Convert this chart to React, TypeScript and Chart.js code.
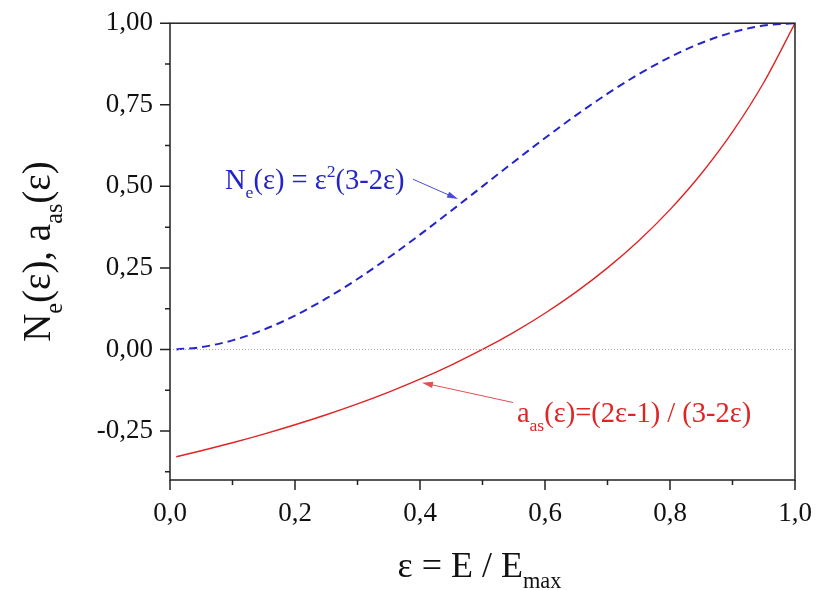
import React, { useEffect, useRef } from "react";
import { Chart, registerables } from "chart.js";

Chart.register(...registerables);

const epsilon = [0.01, 0.05, 0.1, 0.15, 0.2, 0.25, 0.3, 0.35, 0.4, 0.45, 0.5, 0.55, 0.6, 0.65, 0.7, 0.75, 0.8, 0.85, 0.9, 0.95, 1.0];
const neValues = [0.0003, 0.0073, 0.028, 0.0608, 0.104, 0.1563, 0.216, 0.2818, 0.352, 0.4253, 0.5, 0.5748, 0.648, 0.7183, 0.784, 0.8438, 0.896, 0.9393, 0.972, 0.9928, 1.0];
const aasValues = [-0.3289, -0.3103, -0.2857, -0.2593, -0.2308, -0.2, -0.1667, -0.1304, -0.0909, -0.0476, 0, 0.0526, 0.1111, 0.1765, 0.25, 0.3333, 0.4286, 0.5385, 0.6667, 0.8182, 1.0];
const zeroLine = [0, 0];
const zeroLineX = [0, 1];

const xTickValues = [0, 0.2, 0.4, 0.6, 0.8, 1.0];
const xMinorTickValues = [0.1, 0.3, 0.5, 0.7, 0.9];
const yTickValues = [-0.25, 0, 0.25, 0.5, 0.75, 1.0];
const yMinorTickValues = [-0.375, -0.125, 0.125, 0.375, 0.625, 0.875];

const FAMILY = "'Liberation Serif', 'Times New Roman', serif";

type Part = { t: string; s?: "sub" | "sup" };

function partFont(size: number, p: Part) {
  const fs = p.s ? size * 0.62 : size;
  return `${fs}px ${FAMILY}`;
}

function measureRich(ctx: CanvasRenderingContext2D, parts: Part[], size: number) {
  let w = 0;
  for (const p of parts) {
    ctx.font = partFont(size, p);
    w += ctx.measureText(p.t).width;
  }
  return w;
}

function drawRich(ctx: CanvasRenderingContext2D, parts: Part[], size: number, x: number, y: number) {
  let cx = x;
  ctx.textBaseline = "alphabetic";
  ctx.textAlign = "left";
  for (const p of parts) {
    ctx.font = partFont(size, p);
    const dy = p.s === "sub" ? size * 0.3 : p.s === "sup" ? -size * 0.42 : 0;
    ctx.fillText(p.t, cx, y + dy);
    cx += ctx.measureText(p.t).width;
  }
}

function arrow(ctx: CanvasRenderingContext2D, x1: number, y1: number, x2: number, y2: number, color: string) {
  const ang = Math.atan2(y2 - y1, x2 - x1);
  const len = 11;
  const hw = 3.2;
  ctx.strokeStyle = color;
  ctx.fillStyle = color;
  ctx.lineWidth = 1;
  ctx.beginPath();
  ctx.moveTo(x1, y1);
  ctx.lineTo(x2 - Math.cos(ang) * len * 0.8, y2 - Math.sin(ang) * len * 0.8);
  ctx.stroke();
  ctx.beginPath();
  ctx.moveTo(x2, y2);
  ctx.lineTo(x2 - Math.cos(ang) * len - Math.sin(ang) * hw, y2 - Math.sin(ang) * len + Math.cos(ang) * hw);
  ctx.lineTo(x2 - Math.cos(ang) * len + Math.sin(ang) * hw, y2 - Math.sin(ang) * len - Math.cos(ang) * hw);
  ctx.closePath();
  ctx.fill();
}

const decorPlugin = {
  id: "decor",
  afterDraw(chart: any) {
    const { ctx, chartArea: a, scales } = chart;
    const xs = scales.x;
    const ys = scales.y;
    ctx.save();
    // frame
    ctx.strokeStyle = "#222";
    ctx.lineWidth = 1.5;
    ctx.strokeRect(a.left, a.top, a.right - a.left, a.bottom - a.top);
    // ticks
    ctx.lineWidth = 1.5;
    ctx.beginPath();
    for (const v of xTickValues) {
      const px = xs.getPixelForValue(v);
      ctx.moveTo(px, a.bottom);
      ctx.lineTo(px, a.bottom + 10);
    }
    for (const v of xMinorTickValues) {
      const px = xs.getPixelForValue(v);
      ctx.moveTo(px, a.bottom);
      ctx.lineTo(px, a.bottom + 5);
    }
    for (const v of yTickValues) {
      const py = ys.getPixelForValue(v);
      ctx.moveTo(a.left, py);
      ctx.lineTo(a.left - 10, py);
    }
    for (const v of yMinorTickValues) {
      const py = ys.getPixelForValue(v);
      ctx.moveTo(a.left, py);
      ctx.lineTo(a.left - 5, py);
    }
    ctx.stroke();

    // x title
    ctx.fillStyle = "#111";
    const xt: Part[] = [{ t: "ε = E / E" }, { t: "max", s: "sub" }];
    const xsz = 36;
    const xw = measureRich(ctx, xt, xsz);
    drawRich(ctx, xt, xsz, (a.left + a.right) / 2 - xw / 2 - 3, 577);

    // y title
    const yt: Part[] = [{ t: "N" }, { t: "e", s: "sub" }, { t: "(ε), a" }, { t: "as", s: "sub" }, { t: "(ε)" }];
    const ysz = 39;
    const yw = measureRich(ctx, yt, ysz);
    ctx.save();
    ctx.translate(50, (a.top + a.bottom) / 2);
    ctx.rotate(-Math.PI / 2);
    drawRich(ctx, yt, ysz, -yw / 2, 0);
    ctx.restore();

    // blue annotation
    ctx.fillStyle = "#2424c8";
    const bt: Part[] = [{ t: "N" }, { t: "e", s: "sub" }, { t: "(ε) = ε" }, { t: "2", s: "sup" }, { t: "(3-2ε)" }];
    drawRich(ctx, bt, 28.5, xs.getPixelForValue(0.088), ys.getPixelForValue(0.492));
    arrow(ctx, xs.getPixelForValue(0.3888), ys.getPixelForValue(0.5218), xs.getPixelForValue(0.4608), ys.getPixelForValue(0.461), "#4a4ad8");

    // red annotation
    ctx.fillStyle = "#e02424";
    const rt: Part[] = [{ t: "a" }, { t: "as", s: "sub" }, { t: "(ε)=(2ε-1) / (3-2ε)" }];
    drawRich(ctx, rt, 28.5, xs.getPixelForValue(0.555), ys.getPixelForValue(-0.2225));
    arrow(ctx, xs.getPixelForValue(0.5488), ys.getPixelForValue(-0.1625), xs.getPixelForValue(0.4032), ys.getPixelForValue(-0.1016), "#e05050");
    ctx.restore();
  },
};

export default function App() {
  const ref = useRef<HTMLCanvasElement | null>(null);
  useEffect(() => {
    if (!ref.current) return;
    const chart = new Chart(ref.current, {
      type: "line",
      data: {
        datasets: [
          {
            data: zeroLineX.map((x, i) => ({ x, y: zeroLine[i] })),
            borderColor: "#aaaaaa",
            borderWidth: 1,
            borderDash: [1, 2],
            pointRadius: 0,
          },
          {
            data: epsilon.map((x, i) => ({ x, y: neValues[i] })),
            borderColor: "#2424c8",
            borderWidth: 2,
            borderDash: [8, 5],
            pointRadius: 0,
            cubicInterpolationMode: "monotone",
          },
          {
            data: epsilon.map((x, i) => ({ x, y: aasValues[i] })),
            borderColor: "#e02424",
            borderWidth: 1.4,
            pointRadius: 0,
            cubicInterpolationMode: "monotone",
          },
        ],
      },
      options: {
        animation: false,
        responsive: false,
        layout: { padding: { top: 20, right: 28, left: 0, bottom: 0 } },
        plugins: { legend: { display: false }, tooltip: { enabled: false } },
        scales: {
          x: {
            type: "linear",
            min: 0,
            max: 1,
            afterBuildTicks: (s: any) => {
              s.ticks = xTickValues.map((v) => ({ value: v }));
            },
            afterFit: (s: any) => {
              s.height = 110;
            },
            grid: { display: false, drawTicks: true, tickLength: 10 },
            border: { display: false },
            ticks: {
              padding: 8,
              color: "#111",
              font: { family: FAMILY, size: 27 },
              maxRotation: 0,
              autoSkip: false,
              callback: (v: any) => Number(v).toFixed(1).replace(".", ","),
            },
          },
          y: {
            type: "linear",
            min: -0.4,
            max: 1.0,
            afterBuildTicks: (s: any) => {
              s.ticks = yTickValues.map((v) => ({ value: v }));
            },
            afterFit: (s: any) => {
              s.width = 170;
            },
            grid: { display: false, drawTicks: true, tickLength: 10 },
            border: { display: false },
            ticks: {
              padding: 7,
              color: "#111",
              font: { family: FAMILY, size: 27 },
              autoSkip: false,
              callback: (v: any) => Number(v).toFixed(2).replace(".", ","),
            },
          },
        },
      },
      plugins: [decorPlugin],
    });
    return () => chart.destroy();
  }, []);
  return (
    <div style={{ position: "absolute", left: 0, top: 0, width: 823, height: 590, background: "#fff" }}>
      <canvas ref={ref} width={823} height={590} />
    </div>
  );
}
